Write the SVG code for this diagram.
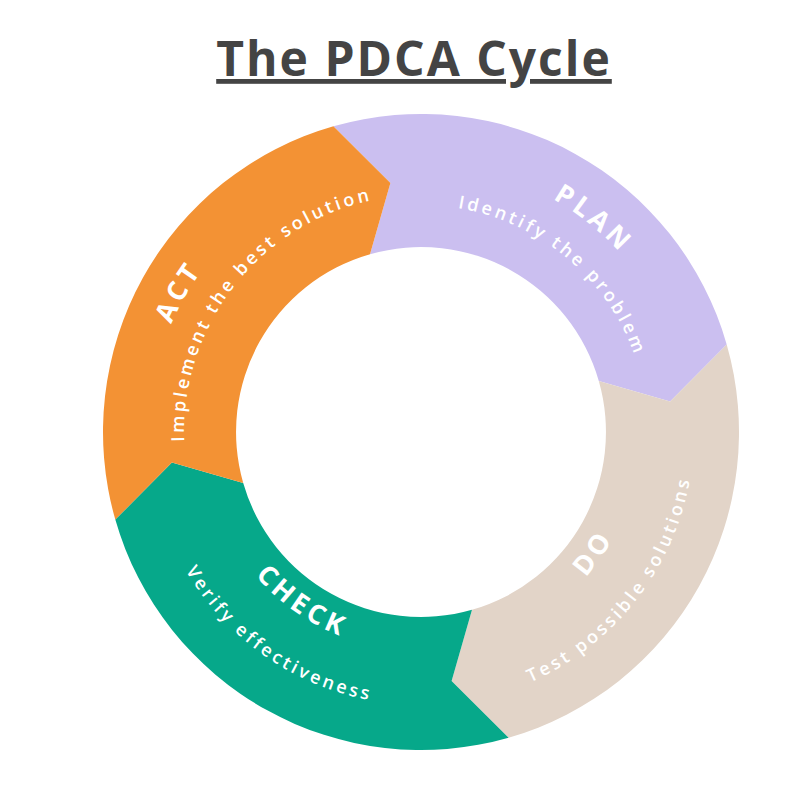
<svg xmlns="http://www.w3.org/2000/svg" width="812" height="812" viewBox="0 0 812 812">
<style>
.t{font-family:"Open Sans","DejaVu Sans",sans-serif;fill:#fff;font-weight:bold;letter-spacing:4px}
.h{font-size:27px}
.s{font-size:18px;font-weight:600;letter-spacing:3.2px}
</style>
<defs>
<path id="pT" d="M462.9,167.3 A270,270 0 0 1 671.2,335.9"/>
<path id="pS" d="M421,205 A227,227 0 0 1 644.5,392.6"/>
<path id="dT" d="M513.8,630.9 A217,217 0 0 0 639.2,451.1"/>
<path id="dS" d="M430.2,705 A273,273 0 0 0 688,375.2"/>
<path id="cT" d="M222.5,524.6 A217,217 0 0 0 401.9,650.2"/>
<path id="cS" d="M152.1,479.4 A273,273 0 0 0 468.4,700.9"/>
<path id="aT" d="M149,432 A272,272 0 0 1 285,196.4"/>
<path id="aS" d="M187.7,473.3 A237,237 0 0 1 404.5,195.6"/>
</defs>
<rect width="812" height="812" fill="#fff"/>
<text x="414" y="76" text-anchor="middle" font-family="'Open Sans','DejaVu Sans',sans-serif" font-size="48" font-weight="bold" letter-spacing="2" fill="#444" text-decoration="underline">The PDCA Cycle</text>
<g id="plan"><path fill="#CBBFF0" d="M333.4,126.3 A318,318 0 0 1 726.7,344.4 L670.1,401.4 L598.8,381 A185,185 0 0 0 370,254.2 L390.4,182.9 Z"/>
<text class="t h"><textPath href="#pT" startOffset="50%" text-anchor="middle">PLAN</textPath></text>
<text class="t s"><textPath href="#pS" startOffset="50%" text-anchor="middle">Identify the problem</textPath></text></g>
<g id="do"><path fill="#E2D4C8" d="M726.7,344.4 A318,318 0 0 1 508.6,737.7 L451.6,681.1 L472,609.8 A185,185 0 0 0 598.8,381 L670.1,401.4 Z"/>
<text class="t h"><textPath href="#dT" startOffset="50%" text-anchor="middle">DO</textPath></text>
<text class="t s"><textPath href="#dS" startOffset="50%" text-anchor="middle">Test possible solutions</textPath></text></g>
<g id="check"><path fill="#06A88A" d="M508.6,737.7 A318,318 0 0 1 115.3,519.6 L171.9,462.6 L243.2,483 A185,185 0 0 0 472,609.8 L451.6,681.1 Z"/>
<text class="t h"><textPath href="#cT" startOffset="50%" text-anchor="middle">CHECK</textPath></text>
<text class="t s"><textPath href="#cS" startOffset="50%" text-anchor="middle">Verify effectiveness</textPath></text></g>
<g id="act"><path fill="#F39234" d="M115.3,519.6 A318,318 0 0 1 333.4,126.3 L390.4,182.9 L370,254.2 A185,185 0 0 0 243.2,483 L171.9,462.6 Z"/>
<text class="t h"><textPath href="#aT" startOffset="50%" text-anchor="middle">ACT</textPath></text>
<text class="t s"><textPath href="#aS" startOffset="50%" text-anchor="middle">Implement the  best solution</textPath></text></g>
<g id="connectors"/>
</svg>
